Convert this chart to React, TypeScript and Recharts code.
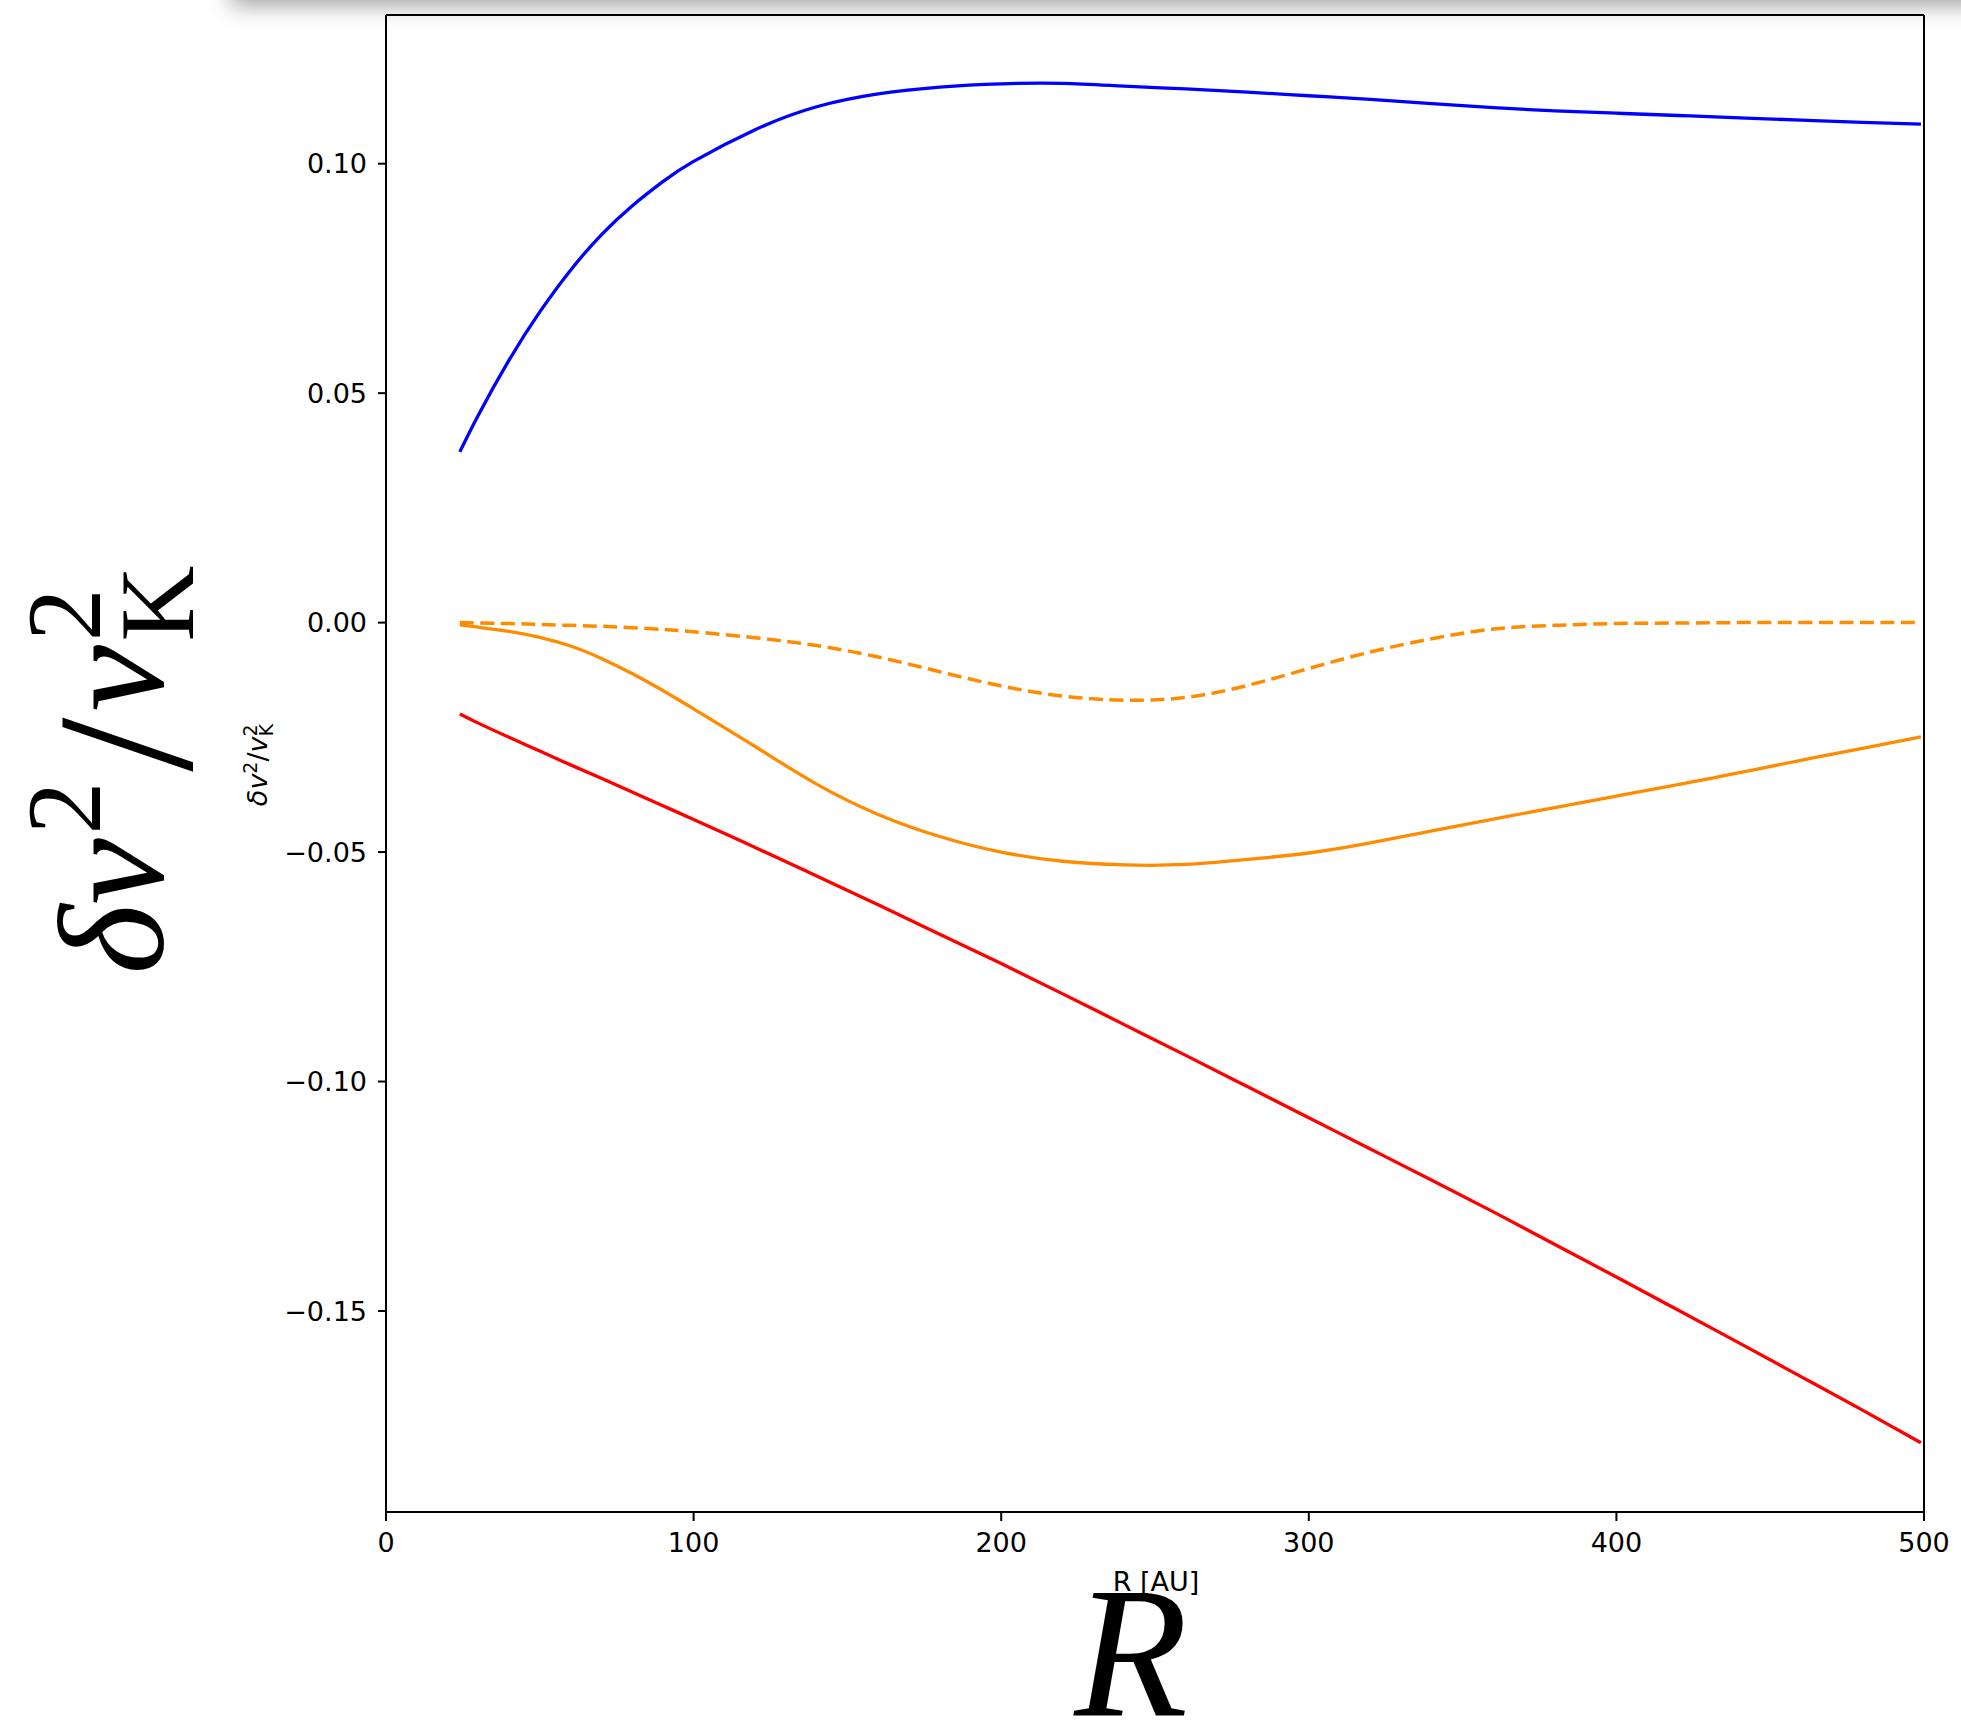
import { LineChart, Line, XAxis, YAxis, ReferenceLine } from 'recharts';

// radius grid [AU] and the four curves
const radiusAU = [24, 30, 40, 50, 60, 70, 80, 90, 100, 120, 140, 160, 180, 200, 220, 240, 260, 280, 300, 320, 340, 360, 380, 400, 420, 440, 460, 480, 499];

const blueValues = [0.0372, 0.0452, 0.0572, 0.0677, 0.0768, 0.0845, 0.0908, 0.0961, 0.1005, 0.1074, 0.1124, 0.1152, 0.1167, 0.1174, 0.1175, 0.1169, 0.1163, 0.1156, 0.1148, 0.114, 0.1131, 0.1122, 0.1115, 0.111, 0.1105, 0.11, 0.1095, 0.109, 0.1086];

const orangeSolidValues = [-0.0005, -0.001, -0.0019, -0.0032, -0.0051, -0.0078, -0.0111, -0.0148, -0.0188, -0.027, -0.0352, -0.0418, -0.0466, -0.05, -0.052, -0.0528, -0.0527, -0.0516, -0.0502, -0.048, -0.0454, -0.0428, -0.0403, -0.0378, -0.0353, -0.0327, -0.03, -0.0274, -0.0249];

const orangeDashedValues = [0, -0.0001, -0.0002, -0.0004, -0.0006, -0.0008, -0.0011, -0.0015, -0.002, -0.0033, -0.005, -0.0075, -0.0107, -0.0138, -0.016, -0.0169, -0.0163, -0.0137, -0.01, -0.0064, -0.0035, -0.0014, -0.0006, -0.0002, -0.0001, 0, 0, 0, 0];

const redValues = [-0.0199, -0.0219, -0.025, -0.028, -0.031, -0.0339, -0.0369, -0.0399, -0.0429, -0.049, -0.0552, -0.0615, -0.0679, -0.0743, -0.0809, -0.0876, -0.0943, -0.1011, -0.1079, -0.1147, -0.1215, -0.1284, -0.1355, -0.1426, -0.1498, -0.157, -0.1643, -0.1716, -0.1787];

const xTicks = [0, 100, 200, 300, 400, 500];
const yTicks = [-0.15, -0.1, -0.05, 0, 0.05, 0.1];

const data = radiusAU.map((r, i) => ({
  r,
  blue: blueValues[i],
  orangeSolid: orangeSolidValues[i],
  orangeDashed: orangeDashedValues[i],
  red: redValues[i],
}));

const W = 1961;
const H = 1724;
const X_DOMAIN: [number, number] = [0, 500];
const Y_DOMAIN: [number, number] = [-0.1938, 0.1324];
const tickFont = { fontSize: 27, fill: '#000', fontFamily: 'DejaVu Sans' };

function formatY(v: number): string {
  const s = Math.abs(v).toFixed(2);
  return v < -1e-9 ? '\u2212' + s : s;
}

export default function App() {
  return (
    <div style={{ position: 'absolute', left: 0, top: 0, width: W, height: H, background: '#fff', overflow: 'hidden' }}>
      {/* window shadow along the top edge */}
      <div style={{ position: 'absolute', left: 236, top: -60, width: W, height: 60, background: '#fff', boxShadow: '0 0 22px 5px rgba(0,0,0,0.38)' }} />
      <LineChart width={W} height={H} data={data} margin={{ top: 15, right: 37, left: 286, bottom: 172 }}>
        <XAxis
          dataKey="r"
          type="number"
          domain={X_DOMAIN}
          ticks={xTicks}
          allowDataOverflow
          height={40}
          tick={tickFont}
          tickSize={9}
          tickMargin={12}
          axisLine={{ stroke: '#000', strokeWidth: 2 }}
          tickLine={{ stroke: '#000', strokeWidth: 2 }}
        />
        <YAxis
          type="number"
          domain={Y_DOMAIN}
          ticks={yTicks}
          allowDataOverflow
          width={100}
          tick={tickFont}
          tickFormatter={formatY}
          tickSize={8}
          tickMargin={11}
          axisLine={{ stroke: '#000', strokeWidth: 2 }}
          tickLine={{ stroke: '#000', strokeWidth: 2 }}
        />
        {/* top and right spines */}
        <ReferenceLine y={Y_DOMAIN[1]} stroke="#000" strokeWidth={2} />
        <ReferenceLine x={X_DOMAIN[1]} stroke="#000" strokeWidth={2} />
        <Line type="natural" dataKey="blue" stroke="#0000ff" strokeWidth={3.3} dot={false} isAnimationActive={false} />
        <Line type="natural" dataKey="orangeSolid" stroke="#ff8c00" strokeWidth={3.3} dot={false} isAnimationActive={false} />
        <Line type="natural" dataKey="orangeDashed" stroke="#ff8c00" strokeWidth={3.5} strokeDasharray="14 6.5" dot={false} isAnimationActive={false} />
        <Line type="natural" dataKey="red" stroke="#ff0000" strokeWidth={3.3} dot={false} isAnimationActive={false} />
      </LineChart>
      <svg width={W} height={H} style={{ position: 'absolute', left: 0, top: 0, pointerEvents: 'none' }}>
        <text x={1156} y={1591} textAnchor="middle" fontFamily="DejaVu Sans" fontSize={27} fill="#000">R [AU]</text>
        <text x={1131} y={1716} textAnchor="middle" fontFamily="Liberation Serif" fontStyle="italic" fontSize={186} fill="#000">R</text>
        <text transform="translate(267,765) rotate(-90)" textAnchor="middle" fontFamily="DejaVu Sans" fontSize={27} fill="#000">
          <tspan fontStyle="italic">δv</tspan>
          <tspan fontSize={19} dy={-10}>2</tspan>
          <tspan dy={10}>/</tspan>
          <tspan fontStyle="italic">v</tspan>
          <tspan fontSize={19} dy={-10}>2</tspan>
          <tspan fontSize={19} dx={-12} dy={16}>K</tspan>
        </text>
        <text transform="translate(163,770) rotate(-90)" textAnchor="middle" fontFamily="Liberation Serif" fontSize={150} fill="#000">
          <tspan fontStyle="italic">δv</tspan>
          <tspan fontSize={105} dx={4} dy={-63}>2</tspan>
          <tspan fontSize={195} dx={10} dy={91}>/</tspan>
          <tspan fontStyle="italic" dx={6} dy={-28}>v</tspan>
          <tspan fontSize={105} dx={4} dy={-63}>2</tspan>
          <tspan fontSize={105} dx={-53} dy={93}>K</tspan>
        </text>
      </svg>
    </div>
  );
}
